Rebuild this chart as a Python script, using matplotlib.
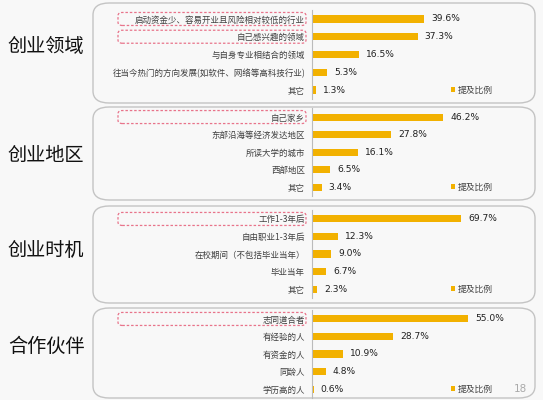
import matplotlib
matplotlib.use("Agg")
import matplotlib.pyplot as plt
from matplotlib.patches import FancyBboxPatch

plt.rcParams['font.family'] = ['Noto Sans CJK SC', 'DejaVu Sans']

# ---- data ----
section_titles = ["创业领域", "创业地区", "创业时机", "合作伙伴"]

field_labels = ["启动资金少、容易开业且风险相对较低的行业", "自己感兴趣的领域", "与自身专业相结合的领域",
                "往当今热门的方向发展(如软件、网络等高科技行业)", "其它"]
field_values = [39.6, 37.3, 16.5, 5.3, 1.3]

region_labels = ["自己家乡", "东部沿海等经济发达地区", "所读大学的城市", "西部地区", "其它"]
region_values = [46.2, 27.8, 16.1, 6.5, 3.4]

timing_labels = ["工作1-3年后", "自由职业1-3年后", "在校期间（不包括毕业当年）", "毕业当年", "其它"]
timing_values = [69.7, 12.3, 9.0, 6.7, 2.3]

partner_labels = ["志同道合者", "有经验的人", "有资金的人", "同龄人", "学历高的人"]
partner_values = [55.0, 28.7, 10.9, 4.8, 0.6]

series_name = "提及比例"
page_number = "18"

sections = [
    (field_labels, field_values, [0, 1]),
    (region_labels, region_values, [0]),
    (timing_labels, timing_values, [0]),
    (partner_labels, partner_values, [0]),
]

# ---- layout (pixels) ----
W, H = 543, 400
BG = "#F8F8F8"
BAR = "#F2B100"
fig = plt.figure(figsize=(W / 100, H / 100), dpi=100, facecolor=BG)

def fx(px):
    return px / W

def fy(py):
    return 1 - py / H

panel_boxes = [(3, 103), (107, 200), (206, 303), (308, 398)]
axes_spans = [(10.1, 98.9), (108.3, 195.8), (210.2, 297.8), (310.2, 397.8)]
title_y = [47, 155, 250, 347]
xmax = [76.8, 76.8, 101.9, 76.8]
ax_left, ax_right = 312, 530

for i, ((labels, values, hl), (pt, pb), (at, ab)) in enumerate(zip(sections, panel_boxes, axes_spans)):
    # rounded panel
    box = FancyBboxPatch((fx(93), fy(pb)), fx(535) - fx(93), fy(pt) - fy(pb),
                         boxstyle="round,pad=0,rounding_size=0.03",
                         transform=fig.transFigure, facecolor="none",
                         edgecolor="#C4C4C4", linewidth=1.0, zorder=-1)
    fig.patches.append(box)

    ax = fig.add_axes([fx(ax_left), fy(ab), fx(ax_right) - fx(ax_left), fy(at) - fy(ab)])
    ax.set_facecolor("none")
    pos = list(range(len(labels)))
    bars = ax.barh(pos, values, height=0.4, color=BAR, edgecolor="none", label=series_name)
    ax.set_xlim(0, xmax[i])
    ax.set_ylim(len(labels) - 0.5, -0.5)
    ax.set_yticks(pos)
    ax.set_yticklabels(labels, fontsize=6.1, color="#404040")
    ax.tick_params(axis='y', length=0, pad=5)
    ax.set_xticks([])
    for s in ["top", "right", "bottom"]:
        ax.spines[s].set_visible(False)
    ax.spines["left"].set_color("#BBBBBB")
    ax.spines["left"].set_linewidth(0.8)
    for b, v in zip(bars, values):
        ax.annotate(f"{v:.1f}%", (b.get_width(), b.get_y() + b.get_height() / 2),
                    xytext=(5, 0), textcoords="offset points", va="center", ha="left",
                    fontsize=6.6, color="#202020", family="DejaVu Sans")
    leg = ax.legend(loc="center right", bbox_to_anchor=(0.83, 0.1), frameon=False,
                    handlelength=0.5, handleheight=0.5, handletextpad=0.3,
                    prop={"size": 6.3}, borderpad=0, borderaxespad=0)
    for t in leg.get_texts():
        t.set_color("#404040")

    # dashed highlight boxes
    fig.canvas.draw()
    for r in hl:
        yc_disp = ax.transData.transform((0, r))[1]
        yc = yc_disp / fig.dpi / (H / 100)
        hb = FancyBboxPatch((fx(118), yc - 6.5 / H), fx(306) - fx(118), 13 / H,
                            boxstyle="round,pad=0,rounding_size=0.008",
                            transform=fig.transFigure, facecolor="none",
                            edgecolor="#E8738A", linewidth=0.9, linestyle=(0, (2, 1.5)),
                            zorder=5)
        fig.patches.append(hb)

    fig.text(fx(46), fy(title_y[i]), section_titles[i], fontsize=13.8, color="#111111",
             ha="center", va="center")

fig.text(fx(520), fy(389), page_number, fontsize=7.5, color="#AAAAAA", ha="center", va="center",
         family="DejaVu Sans")

fig.savefig("out.png", dpi=100, facecolor=BG)
